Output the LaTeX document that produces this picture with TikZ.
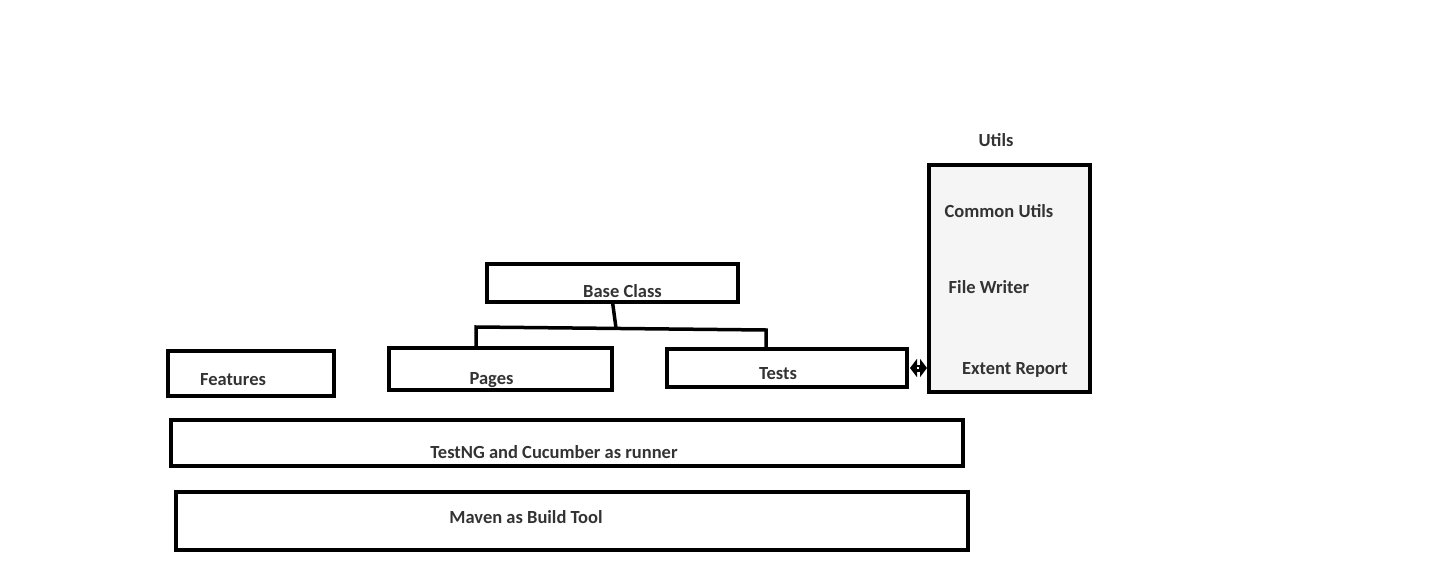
\documentclass[tikz,border=0pt]{standalone}
\usepackage{fontspec}
\setmainfont{Carlito}
\usetikzlibrary{arrows.meta}

\begin{document}
\begin{tikzpicture}[x=1pt, y=-1pt,
    box/.style={draw, line width=4pt, inner sep=0pt, outer sep=0pt, anchor=north west},
    lbl/.style={font=\bfseries\fontsize{18.5}{22}\selectfont, text=black!80}]
    \useasboundingbox (0,0) rectangle (1455,578);

    \node[box, minimum width=251pt, minimum height=38pt,
          label={[lbl, xshift=10pt, yshift=-8pt]center:Base Class}] (base) at (487,264) {};
    \node[box, minimum width=166pt, minimum height=45pt,
          label={[lbl, xshift=-18pt, yshift=-6pt]center:Features}] (feat) at (168,351) {};
    \node[box, minimum width=223pt, minimum height=42pt,
          label={[lbl, xshift=-9pt, yshift=-11pt]center:Pages}] (pages) at (389,348) {};
    \node[box, minimum width=240pt, minimum height=38pt,
          label={[lbl, xshift=-9pt, yshift=-6pt]center:Tests}] (tests) at (667,349) {};
    \node[box, minimum width=792pt, minimum height=46pt,
          label={[lbl, xshift=-13pt, yshift=-9pt]center:TestNG and Cucumber as runner}] (runner) at (171,420) {};
    \node[box, minimum width=792pt, minimum height=58pt,
          label={[lbl, xshift=-46pt, yshift=4pt]center:Maven as Build Tool}] (maven) at (176,492) {};

    % utils column
    \node[box, fill=black!4, minimum width=161pt, minimum height=227pt] (utils) at (929,165) {};
    \node[lbl] (utitle) at (996,140) {Utils};
    \node[lbl] (common) at (999,211) {Common Utils};
    \node[lbl] (writer) at (989,287) {File Writer};
    \node[lbl] (extent) at (1015,370) {Extent Report};

    % base class tree
    \coordinate (j) at (616,328);
    \coordinate (jl) at (476,327);
    \coordinate (jr) at (766,330);
    \draw[line width=3.5pt] (base.south) -- (j);
    \draw[line width=3.5pt] (jl |- pages.north) -- (jl) -- (jr) -- (jr |- tests.north);

    % double arrow to utils
    \draw[line width=7pt, {Triangle[length=7pt,width=18pt]}-{Triangle[length=7pt,width=18pt]}]
        ([xshift=3pt]tests.east) -- ([xshift=-2pt]utils.west |- tests.east);
    \draw[white, line width=1.2pt] ([xshift=10pt]tests.east) -- ([xshift=-10pt]utils.west |- tests.east);
\end{tikzpicture}
\end{document}
